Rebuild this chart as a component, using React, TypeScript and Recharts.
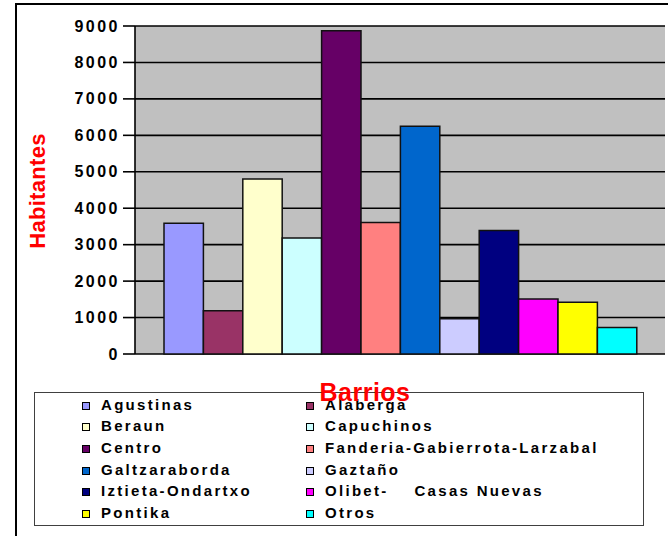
import React from "react";
import { BarChart, Bar, XAxis, YAxis, CartesianGrid } from "recharts";

const barrios = [
  "Agustinas", "Alaberga", "Beraun", "Capuchinos", "Centro",
  "Fanderia-Gabierrota-Larzabal", "Galtzaraborda", "Gaztaño",
  "Iztieta-Ondartxo", "Olibet-    Casas Nuevas", "Pontika", "Otros",
];
const habitantes = [3590, 1190, 4800, 3180, 8870, 3610, 6250, 970, 3390, 1510, 1420, 730];
const colores = [
  "#9999FF", "#993366", "#FFFFCC", "#CCFFFF", "#660066", "#FF8080",
  "#0066CC", "#CCCCFF", "#000080", "#FF00FF", "#FFFF00", "#00FFFF",
];
const yTicks = [0, 1000, 2000, 3000, 4000, 5000, 6000, 7000, 8000, 9000];

const row: Record<string, string | number> = { name: "Barrios" };
barrios.forEach((b, i) => { row[b] = habitantes[i]; });
const data = [row];

const font = "'Liberation Sans', Arial, sans-serif";

// eslint-disable-next-line @typescript-eslint/no-explicit-any
const YTick = ({ x, y, payload }: any) => (
  <text x={x} y={y} dy={5.5} textAnchor="end" fill="#000" fontSize={16} fontWeight={700}
    fontFamily={font} letterSpacing={2.5}>
    {payload.value}
  </text>
);

export default function App() {
  return (
    <div style={{ position: "absolute", left: 0, top: 0, width: 668, height: 536, overflow: "hidden", background: "#fff", fontFamily: font }}>
      {/* outer frame, cut by the picture edge */}
      <div style={{ position: "absolute", left: 15, top: 3, width: 800, height: 700, border: "2px solid #000" }} />

      <div style={{ position: "absolute", left: 0, top: 0 }}>
        <BarChart width={668} height={536} data={data} barSize={39.4} barGap={0}
          margin={{ top: 26, right: 3, left: 75, bottom: 182 }}>
          <CartesianGrid vertical={false} fill="#C0C0C0" stroke="#000" strokeWidth={1.6} />
          <XAxis dataKey="name" height={0} tick={false} tickLine={false}
            axisLine={{ stroke: "#404040", strokeWidth: 2 }} />
          <YAxis domain={[0, 9000]} ticks={yTicks} width={60} tickSize={12} tickMargin={3}
            tick={<YTick />} tickLine={{ stroke: "#000", strokeWidth: 1.6 }}
            axisLine={{ stroke: "#000", strokeWidth: 1.6 }} />
          <YAxis yAxisId="r" orientation="right" width={0} tick={false} tickLine={false}
            axisLine={{ stroke: "#8a8a8a", strokeWidth: 1.5 }} />
          {barrios.map((b, i) => (
            <Bar key={b} dataKey={b} fill={colores[i]} stroke="#111" strokeWidth={1.5}
              isAnimationActive={false} />
          ))}
        </BarChart>
      </div>

      {/* y axis title */}
      <div style={{
        position: "absolute", left: 37.5 - 100, top: 190.5 - 11, width: 200, height: 22,
        lineHeight: "22px", textAlign: "center", color: "#FF0000", fontSize: 22, fontWeight: 700,
        transform: "rotate(-90deg)", transformOrigin: "center", letterSpacing: 0.3,
      }}>
        Habitantes
      </div>

      {/* legend */}
      <div style={{
        position: "absolute", left: 34, top: 392, width: 610, height: 134, boxSizing: "border-box",
        border: "1.5px solid #404040", background: "#fff",
      }}>
        {barrios.map((b, i) => {
          const col = i % 2;
          const r = Math.floor(i / 2);
          return (
            <div key={b} style={{
              position: "absolute", left: col === 0 ? 47 : 271, top: 0.5 + r * 21.7, height: 21.7,
              lineHeight: "21.7px", whiteSpace: "pre", fontSize: 15, fontWeight: 700, color: "#000",
              letterSpacing: 2.3,
            }}>
              <span style={{
                display: "inline-block", width: 6, height: 6, border: "1px solid #000",
                background: colores[i], marginRight: 11, verticalAlign: "baseline",
              }} />
              {b}
            </div>
          );
        })}
      </div>

      {/* x axis title, drawn over the legend frame */}
      <div style={{
        position: "absolute", left: 265, top: 380, width: 200, height: 25, lineHeight: "25px",
        textAlign: "center", color: "#FF0000", fontSize: 25, fontWeight: 700, letterSpacing: 0.5,
      }}>
        Barrios
      </div>
    </div>
  );
}
